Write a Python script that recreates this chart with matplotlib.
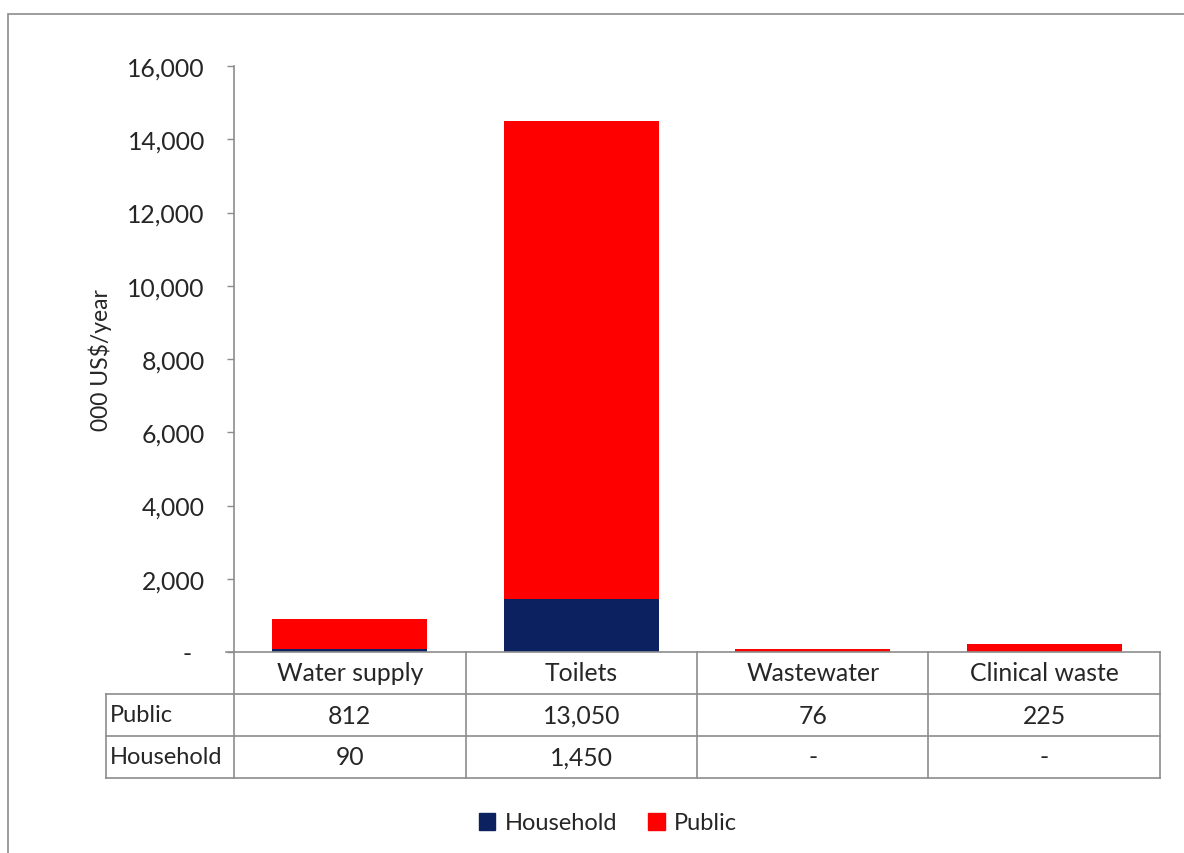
import matplotlib
matplotlib.use("Agg")
import matplotlib.pyplot as plt
from matplotlib.patches import Rectangle, Patch
from matplotlib.lines import Line2D

categories = ["Water supply", "Toilets", "Wastewater", "Clinical waste"]
public = [812, 13050, 76, 225]
household = [90, 1450, 0, 0]
series_names = ["Household", "Public"]
yticks = [0, 2000, 4000, 6000, 8000, 10000, 12000, 14000, 16000]
ylabel = "000 US$/year"

W, H = 1184, 854
plt.rcParams['font.family'] = ['Lato', 'DejaVu Sans']
FS = 17.8
NAVY = "#0b2160"
RED = "#ff0000"
GRID = "#8c8c8c"
TXT = "#262626"

fig = plt.figure(figsize=(W / 100, H / 100), dpi=100)

def fx(x):
    return x / W

def fy(y):
    return 1 - y / H

# outer border
fig.add_artist(Rectangle((fx(8), fy(900)), fx(1300), fy(15) - fy(900),
                         transform=fig.transFigure, fill=False, ec=GRID, lw=1.2))

L, R, T, B = 234, 1160, 67, 653
ax = fig.add_axes([fx(L), fy(B), fx(R - L), fy(T) - fy(B)])
x = list(range(len(categories)))
ax.bar(x, household, width=0.67, color=NAVY, zorder=2)
ax.bar(x, public, width=0.67, bottom=household, color=RED, zorder=2)
ax.set_xlim(-0.5, len(categories) - 0.5)
ax.set_ylim(0, 16000)
ax.set_yticks(yticks)
ax.set_yticklabels([("-" if v == 0 else f"{v:,}") + ("  " if v == 0 else "") for v in yticks],
                   fontsize=FS, color=TXT)
ax.tick_params(axis='y', length=5, width=1, color=GRID, pad=16, direction='out')
ax.set_xticks([])
for s in ["top", "right", "bottom"]:
    ax.spines[s].set_visible(False)
ax.spines["left"].set_color(GRID)
ax.spines["left"].set_linewidth(1.2)
ax.set_ylabel(ylabel, fontsize=16.5, color=TXT, va='center')
ax.yaxis.set_label_coords(fx(100 - L) / fx(R - L), 0.5)

# data table
row_top = [653, 695, 737, 779]
col_lines = [L + (R - L) * i / len(categories) for i in range(len(categories) + 1)]
lab_left = 106

def hline(y, x0, x1):
    fig.add_artist(Line2D([fx(x0), fx(x1)], [fy(y), fy(y)], transform=fig.transFigure,
                          color=GRID, lw=1.2))

def vline(x0, y0, y1):
    fig.add_artist(Line2D([fx(x0), fx(x0)], [fy(y0), fy(y1)], transform=fig.transFigure,
                          color=GRID, lw=1.2))

hline(row_top[0], L - 8, R)
hline(row_top[1], lab_left, R)
hline(row_top[2], lab_left, R)
hline(row_top[3], lab_left, R)
for cx in col_lines:
    vline(cx, row_top[0], row_top[3])
vline(lab_left, row_top[1], row_top[3])

rows = [("Public", public), ("Household", household)]
for i, cat in enumerate(categories):
    cx = (col_lines[i] + col_lines[i + 1]) / 2
    fig.text(fx(cx), fy((row_top[0] + row_top[1]) / 2), cat, ha='center', va='center',
             fontsize=FS, color=TXT)
    for r, (name, vals) in enumerate(rows):
        v = vals[i]
        s = "-" if v == 0 else f"{v:,}"
        fig.text(fx(cx), fy((row_top[r + 1] + row_top[r + 2]) / 2), s, ha='center',
                 va='center', fontsize=FS, color=TXT)
for r, (name, vals) in enumerate(rows):
    fig.text(fx(lab_left + 4), fy((row_top[r + 1] + row_top[r + 2]) / 2), name, ha='left',
             va='center', fontsize=FS - 0.8, color=TXT)

# legend
handles = [Patch(color=NAVY, label=series_names[0]), Patch(color=RED, label=series_names[1])]
fig.legend(handles=handles, loc='center', bbox_to_anchor=(fx(608), fy(824)), ncol=2,
           frameon=False, fontsize=17, handlelength=0.7, handleheight=0.7,
           handletextpad=0.4, columnspacing=1.3, labelcolor=TXT)

fig.savefig("out.png", dpi=100, facecolor="white")
